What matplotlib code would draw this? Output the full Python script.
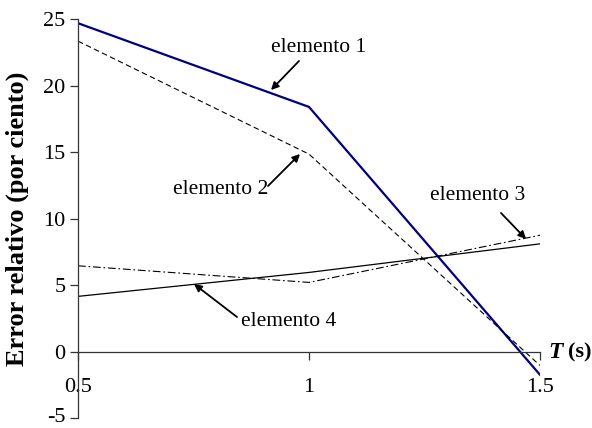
import matplotlib
matplotlib.use("Agg")
import matplotlib.pyplot as plt
from matplotlib.transforms import ScaledTranslation

plt.rcParams['font.family'] = ['Liberation Serif', 'DejaVu Serif']

T = [0.5, 1.0, 1.5]
elemento1 = [24.7, 18.4, -1.75]
elemento2 = [23.35, 14.85, -1.05]
elemento3 = [6.45, 5.2, 8.75]
elemento4 = [4.15, 5.95, 8.1]

y_ticks = [-5, 0, 5, 10, 15, 20, 25]
x_ticks = [0.5, 1.0, 1.5]
x_tick_labels = ['0.5', '1', '1.5']

fig = plt.figure(figsize=(5.92, 4.28), dpi=100)
ax = fig.add_axes([78/592, 1 - 418/428, (540 - 78)/592, (418 - 19.2)/428])

ax.plot(T, elemento1, color='#000080', lw=1.6, solid_joinstyle='miter')
ax.plot(T, elemento2, color='black', lw=0.8, dashes=(5, 3))
ax.plot(T, elemento3, color='black', lw=0.8, dashes=(7, 2.5, 1.5, 2.5))
ax.plot(T, elemento4, color='black', lw=0.9)

ax.set_xlim(0.5, 1.5)
ax.set_ylim(-5, 25)

# x axis drawn at y = 0, y axis at the left edge
ax.spines['top'].set_visible(False)
ax.spines['right'].set_visible(False)
ax.spines['bottom'].set_position(('data', 0))
for s in ('left', 'bottom'):
    ax.spines[s].set_linewidth(0.9)
    ax.spines[s].set_color('#333333')

ax.set_yticks(y_ticks)
ax.set_yticklabels([str(v) for v in y_ticks])
ax.set_xticks(x_ticks)
ax.set_xticklabels(x_tick_labels)
ax.tick_params(axis='y', direction='out', length=6, width=0.9, labelsize=16, pad=3, color='#333333')
ax.tick_params(axis='x', direction='out', length=6, width=0.9, labelsize=16, pad=13, color='#333333')

# keep the lowest y tick label inside the canvas
lowest = ax.get_yticklabels()[0]
lowest.set_transform(lowest.get_transform() + ScaledTranslation(0, 3 / 100, fig.dpi_scale_trans))

ax.set_ylabel('Error relativo (por ciento)', fontsize=19, fontweight='bold', labelpad=10)


def px(x, y):
    return (x / 592, 1 - y / 428)


fig.text(*px(548, 352), 'T', fontsize=17, fontweight='bold', fontstyle='italic',
         va='center', ha='left')
fig.text(*px(568, 352), '(s)', fontsize=16, fontweight='bold', va='center', ha='left')

arrow = dict(arrowstyle='-|>', color='black', lw=1.3, mutation_scale=11, shrinkA=0, shrinkB=0)

labels = [
    ('elemento 1', (319, 48), (299, 61), (271, 90)),
    ('elemento 2', (221, 190), (268, 186), (300, 154)),
    ('elemento 3', (478, 195), (501, 213), (526, 239)),
    ('elemento 4', (289, 322), (237, 317), (194, 284)),
]
for text, pos, tail, head in labels:
    fig.text(*px(*pos), text, fontsize=15.5, ha='center', va='center')
    ax.annotate('', xy=px(*head), xycoords='figure fraction',
                xytext=px(*tail), textcoords='figure fraction', arrowprops=arrow)

fig.savefig('out.png', dpi=100)
